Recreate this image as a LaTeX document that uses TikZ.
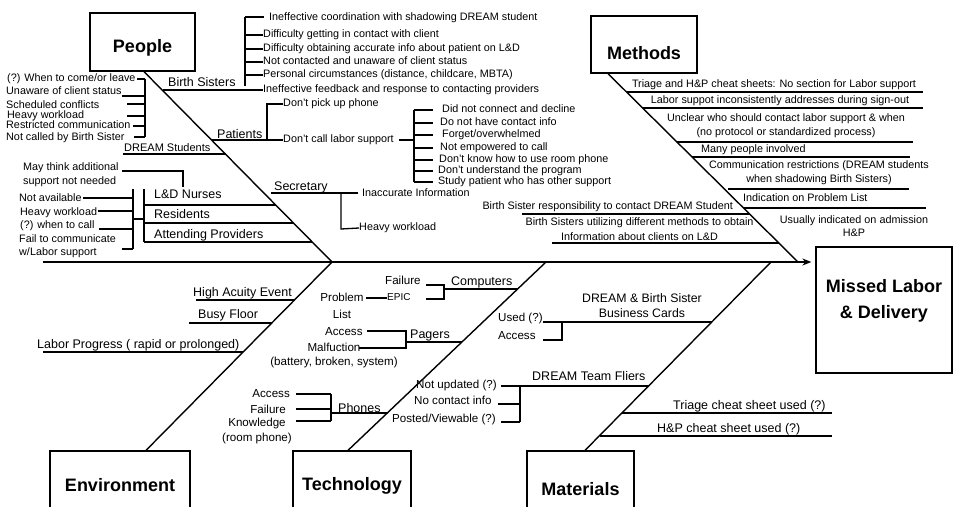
\documentclass[tikz,border=0pt]{standalone}
\usepackage{fontspec}
\setmainfont{Liberation Sans}
\usetikzlibrary{arrows.meta}
\begin{document}
\begin{tikzpicture}[x=1pt,y=-1pt,
  box/.style={draw, line width=1.3pt, inner sep=0pt, font=\bfseries\fontsize{18}{26}\selectfont, text depth=0pt},
  boxt/.style={inner sep=0pt, font=\bfseries\fontsize{18}{26}\selectfont, align=center},
  it/.style={inner sep=0pt, font=\fontsize{10.8}{14}\selectfont, text height=7.6pt, text depth=2.2pt},
  itm/.style={inner sep=0pt, font=\fontsize{10.8}{#1}\selectfont}, itm/.default=14,
  ti/.style={inner sep=0pt, font=\fontsize{11.6}{14.5}\selectfont, text height=8.1pt, text depth=2.3pt},
  tim/.style={inner sep=0pt, font=\fontsize{11.6}{#1}\selectfont, align=center}, tim/.default=14,
  lab/.style={inner sep=0pt, font=\fontsize{12.5}{15}\selectfont, text height=8.8pt, text depth=2.5pt},
  labm/.style={inner sep=0pt, font=\fontsize{12.3}{15}\selectfont, align=center},
  ln/.style={line width=1.3pt},
  bone/.style={line width=1.4pt},
  spine/.style={line width=1.6pt, -{Stealth[length=9pt,width=7pt]}}]
\useasboundingbox (0,0) rectangle (953,506);
\fill[white] (0,0) rectangle (953,506);
\clip (0,0) rectangle (953,506);

% ---------- effect and spine ----------
\node[box, minimum width=136pt, minimum height=126pt] (effect) at (884,310) {};
\node[boxt] (effectT) at (884,301) {Missed Labor\\\& Delivery};
\coordinate (tail) at (43,262);
\draw[spine, shorten >=4pt] (tail) -- (tail -| effect.west);

% ---------- category boxes and bones ----------
\node[box, minimum width=105pt, minimum height=58pt, text height=21pt] (people) at (142.5,42) {People};
\node[box, minimum width=106pt, minimum height=57pt, text height=30pt] (methods) at (644,44.5) {Methods};
\node[box, minimum width=140pt, minimum height=69pt, text height=12pt] (env) at (120,485.5) {Environment};
\node[box, minimum width=118pt, minimum height=69pt, text height=10pt] (tech) at (352,485.5) {Technology};
\node[box, minimum width=107pt, minimum height=69pt, text height=20pt] (mat) at (580.5,485.5) {Materials};
\coordinate (jPE) at (332,262);
\coordinate (jT) at (546,262);
\coordinate (jM) at (771,262);
\coordinate (jMe) at (798,262);
\draw[bone] ([xshift=1.5pt]people.south) -- (jPE);
\draw[bone] ([xshift=26pt]env.north) -- (jPE);
\draw[bone] ([xshift=-4pt]tech.north) -- (jT);
\draw[bone] ([xshift=4.5pt]mat.north) -- (jM);
\draw[bone] ([xshift=-36pt]methods.south) -- (jMe);

% ---------- People: Birth Sisters ----------
\node[lab, anchor=west] (bsL) at (168,83) {Birth Sisters};
\node[it, anchor=west] (bs6) at (263,90) {Ineffective feedback and response to contacting providers};
\draw[ln] (162.7,90) -- (bs6.west);
\node[it, anchor=west] (bs1) at (269,18) {Ineffective coordination with shadowing DREAM student};
\node[it, anchor=west] (bs2) at (263,35) {Difficulty getting in contact with client};
\node[it, anchor=west] (bs3) at (263,49) {Difficulty obtaining accurate info about patient on L\&D};
\node[it, anchor=west] (bs4) at (263,62) {Not contacted and unaware of client status};
\node[it, anchor=west] (bs5) at (263,75) {Personal circumstances (distance, childcare, MBTA)};
\draw[ln] (245,17) -- (245,86);
\draw[ln] (245,17) -- (264,17);
\draw[ln] (245,35) -- (bs2.west);
\draw[ln] (245,49) -- (bs3.west);
\draw[ln] (245,62) -- (bs4.west);
\draw[ln] (245,75) -- (bs5.west);

% ---------- People: DREAM Students ----------
\node[it, anchor=west] (ds1) at (7,79) {(?) When to come/or leave};
\node[it, anchor=west] (ds2) at (6,92) {Unaware of client status};
\node[it, anchor=west] (ds3) at (6,106) {Scheduled conflicts};
\node[it, anchor=west] (ds4) at (7,116) {Heavy workload};
\node[it, anchor=west] (ds5) at (6,126) {Restricted communication};
\node[it, anchor=west] (ds6) at (6,138) {Not called by Birth Sister};
\draw[ln] (145,79) -- (145,137);
\draw[ln] (137,79) -- (145,79);
\draw[ln] (122,96) -- (145,96);
\draw[ln] (127,104) -- (145,104);
\draw[ln] (127,116) -- (145,116);
\draw[ln] (133,126) -- (145,126);
\draw[ln] (134,137) -- (145,137);
\node[inner sep=0pt, font=\fontsize{11}{13}\selectfont, text height=7.7pt, text depth=2.3pt, anchor=west] (dsL) at (124,149) {DREAM Students};
\draw[ln] (123,154) -- (225.7,154);

% ---------- People: Patients ----------
\node[lab, anchor=west] (paL) at (217,135) {Patients};
\node[it, anchor=west] (pa1) at (283,104) {Don't pick up phone};
\node[it, anchor=west] (pa2) at (283,140) {Don't call labor support};
\draw[ln] (211.9,140) -- (pa2.west);
\draw[ln] (pa1.west) -- (267,104) -- (267,140);
\draw[ln] ([xshift=5pt]pa2.east) -- (414,140);
\draw[ln] (414,110) -- (414,182);
\node[it, anchor=west] (pi1) at (442,110) {Did not connect and decline};
\node[it, anchor=west] (pi2) at (440,123) {Do not have contact info};
\node[it, anchor=west] (pi3) at (442,135) {Forget/overwhelmed};
\node[it, anchor=west] (pi4) at (440,148) {Not empowered to call};
\node[it, anchor=west] (pi5) at (439,160) {Don't know how to use room phone};
\node[it, anchor=west] (pi6) at (438,171) {Don't understand the program};
\node[it, anchor=west] (pi7) at (438,182) {Study patient who has other support};
\draw[ln] (414,110) -- (433,110);
\draw[ln] (414,123) -- (433,123);
\draw[ln] (414,135) -- (433,135);
\draw[ln] (414,148) -- (433,148);
\draw[ln] (414,160) -- (433,160);
\draw[ln] (414,171) -- (433,171);
\draw[ln] (414,182) -- (433,182);

% ---------- People: Secretary ----------
\node[lab, anchor=west] (seL) at (274,187) {Secretary};
\node[it, anchor=west] (se1) at (362,194) {Inaccurate Information};
\node[it, anchor=west] (se2) at (359,228) {Heavy workload};
\draw[ln] (271,193) -- (358,193);
\draw[ln] (341,193) -- (341,229) -- (se2.west);

% ---------- People: providers ----------
\node[itm, align=left, anchor=west] (mt) at (23,174.5) {May think additional\\support not needed};
\draw[ln] (122,171) -- (183,171) -- (183,187);
\node[lab, anchor=west] (ldL) at (154,195) {L\&D Nurses};
\node[lab, anchor=west] (reL) at (154,215) {Residents};
\node[lab, anchor=west] (apL) at (154,235) {Attending Providers};
\draw[ln] (144,189) -- (144,242);
\draw[ln] (144,205) -- (275.9,205);
\draw[ln] (144,223) -- (293.6,223);
\draw[ln] (144,242) -- (312.3,242);
\draw[ln] (133,189) -- (133,249);
\draw[ln] (133,219) -- (144,219);
\draw[ln] (83,198) -- (133,198);
\draw[ln] (98,211) -- (133,211);
\draw[ln] (99,229) -- (133,229);
\draw[ln] (122,249) -- (133,249);
\node[it, anchor=west] (lp1) at (19,199) {Not available};
\node[it, anchor=west] (lp2) at (20,213) {Heavy workload};
\node[it, anchor=west] (lp3) at (20,226) {(?) when to call};
\node[itm=13, align=left, anchor=west] (lp4) at (19,246) {Fail to communicate\\w/Labor support};

% ---------- Environment ----------
\node[lab, anchor=west] (en1) at (193,293) {High Acuity Event};
\draw[ln] (196,300) -- (294.6,300);
\node[lab, anchor=west] (en2) at (198,315) {Busy Floor};
\draw[ln] (189,323) -- (272,323);
\node[lab, anchor=west] (en3) at (37,345) {Labor Progress ( rapid or prolonged)};
\draw[ln] (43,352) -- (243.4,352);

% ---------- Technology ----------
\node[lab, anchor=west] (coL) at (451,282) {Computers};
\draw[ln] (444,289) -- (517.7,289);
\draw[ln] (426,285) -- (444,285) -- (444,299) -- (426,299);
\node[ti, anchor=west] (co1) at (385,282) {Failure};
\node[inner sep=0pt, font=\fontsize{10}{12}\selectfont, text height=7pt, text depth=2pt, anchor=west] (co2) at (387,298) {EPIC};
\node[tim=17] (co3) at (342,306) {Problem\\List};
\draw[ln] (366,298) -- (co2.west);
\node[lab, anchor=west] (pgL) at (410,335) {Pagers};
\draw[ln] (406,342) -- (462.2,342);
\draw[ln] (367,331) -- (406,331) -- (406,348) -- (359,348);
\node[ti, anchor=west] (pg1) at (325,333) {Access};
\node[tim=14] (pg2) at (334,355.5) {Malfuction\\(battery, broken, system)};
\node[lab, anchor=west] (phL) at (338,409) {Phones};
\draw[ln] (331,413) -- (387.8,413);
\draw[ln] (331,394) -- (331,421);
\draw[ln] (296,394) -- (331,394);
\draw[ln] (296,409) -- (331,409);
\draw[ln] (296,421) -- (331,421);
\node[ti, anchor=east] (ph1) at (290,395) {Access};
\node[ti, anchor=east] (ph2) at (286,411) {Failure};
\node[tim=15] (ph3) at (257,431) {Knowledge\\(room phone)};

% ---------- Materials ----------
\node[labm] (bcL) at (642,305.5) {DREAM \& Birth Sister\\Business Cards};
\draw[ln] (543,322) -- (712,322);
\draw[ln] (562,322) -- (562,340) -- (543,340);
\node[ti, anchor=west] (bc1) at (498,319) {Used (?)};
\node[ti, anchor=west] (bc2) at (498,337) {Access};
\node[lab, anchor=west] (flL) at (532,377) {DREAM Team Fliers};
\draw[ln] (501,386) -- (649,386);
\draw[ln] (520,386) -- (520,422);
\draw[ln] (498,404) -- (520,404);
\draw[ln] (501,422) -- (520,422);
\node[ti, anchor=west] (fl1) at (416,386) {Not updated (?)};
\node[ti, anchor=west] (fl2) at (414,402) {No contact info};
\node[ti, anchor=west] (fl3) at (392,420) {Posted/Viewable (?)};
\node[lab, anchor=west] (tr) at (673,406) {Triage cheat sheet used (?)};
\draw[ln] (622.4,413) -- (832,413);
\node[lab, anchor=west] (hp) at (657,429) {H\&P cheat sheet used (?)};
\draw[ln] (599.8,436) -- (832,436);

% ---------- Methods ----------
\node[it] (me1) at (774,85) {Triage and H\&P cheat sheets: No section for Labor support};
\draw[ln] (627.1,92) -- (923,92);
\node[it] (me2) at (780,101) {Labor suppot inconsistently addresses during sign-out};
\draw[ln] (643.2,108) -- (923,108);
\node[itm, align=center] (me3) at (786,125.5) {Unclear who should contact labor support \& when\\(no protocol or standardized process)};
\draw[ln] (677.4,142) -- (913,142);
\node[it, anchor=west] (me4) at (701,150) {Many people involved};
\draw[ln] (692.4,157) -- (910,157);
\node[itm, align=center] (me5) at (819,172.5) {Communication restrictions (DREAM students\\when shadowing Birth Sisters)};
\draw[ln] (728,189) -- (909,189);
\node[it, anchor=west] (me6) at (743,199) {Indication on Problem List};
\draw[ln] (743.7,208) -- (926,208);
\node[itm=13, align=center] (me7) at (854,226) {Usually indicated on admission\\H\&P};
\node[it, anchor=east] (me8) at (733,207) {Birth Sister responsibility to contact DREAM Student};
\draw[ln] (522,214) -- (749.7,214);
\node[itm=15, align=center] (me9) at (639.5,229) {Birth Sisters utilizing different methods to obtain\\Information about clients on L\&D};
\draw[ln] (552,243) -- (778.9,243);
\end{tikzpicture}
\end{document}
